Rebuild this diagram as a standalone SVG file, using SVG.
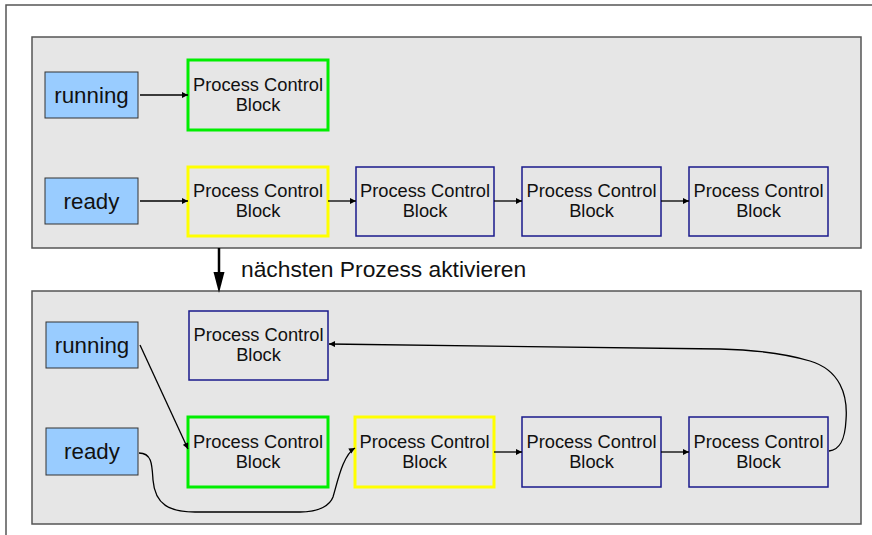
<svg xmlns="http://www.w3.org/2000/svg" width="872" height="535" viewBox="0 0 872 535">
<defs>
<style>
.panel{fill:#e6e6e6;stroke:#555;stroke-width:1.5}
.state{fill:#99ccff;stroke:#333;stroke-width:1}
.pcb{fill:none;stroke:#1a1a8c;stroke-width:1.5}
.pcb.g{stroke:#00ee00;stroke-width:3}
.pcb.y{stroke:#ffff00;stroke-width:3}
text{font-family:"Liberation Sans",Arial,sans-serif;fill:#111;text-anchor:middle}
.t{font-size:18.3px}
.s{font-size:22.3px}
.c{fill:none;stroke:#000;stroke-width:1.3;marker-end:url(#ah)}
</style>
<marker id="ah" viewBox="0 0 10 10" refX="10" refY="5" markerWidth="7" markerHeight="6" markerUnits="userSpaceOnUse" orient="auto"><path d="M0,0L10,5L0,10z" fill="#000"/></marker>
</defs>
<rect x="6" y="5" width="880" height="540" fill="#fff" stroke="#555" stroke-width="1.5"/>
<rect class="panel" x="32" y="37" width="829" height="211"/>
<rect class="panel" x="32" y="291" width="829" height="233"/>

<g id="top-running"><rect class="state" x="45" y="72" width="93" height="46"/><text class="s" x="91.5" y="103">running</text></g>
<g id="top-ready"><rect class="state" x="45" y="178" width="93" height="46"/><text class="s" x="91.5" y="209">ready</text></g>
<g id="top-pcb-green"><rect class="pcb g" x="188" y="60" width="140" height="70"/><text class="t" x="258" y="91">Process Control</text><text class="t" x="258" y="111">Block</text></g>
<g id="top-pcb-yellow"><rect class="pcb y" x="188" y="167" width="140" height="69"/><text class="t" x="258" y="197">Process Control</text><text class="t" x="258" y="217">Block</text></g>
<g id="top-pcb-2"><rect class="pcb" x="356" y="167" width="138" height="69"/><text class="t" x="425" y="197">Process Control</text><text class="t" x="425" y="217">Block</text></g>
<g id="top-pcb-3"><rect class="pcb" x="522" y="167" width="139" height="69"/><text class="t" x="591.5" y="197">Process Control</text><text class="t" x="591.5" y="217">Block</text></g>
<g id="top-pcb-4"><rect class="pcb" x="689" y="167" width="139" height="69"/><text class="t" x="758.5" y="197">Process Control</text><text class="t" x="758.5" y="217">Block</text></g>

<g id="transition">
<line x1="219" y1="248" x2="219" y2="274" stroke="#000" stroke-width="2.5"/>
<path d="M213.5,272L224.5,272L219,293z" fill="#000"/>
<text x="241" y="277" style="font-size:22.8px;text-anchor:start">nächsten Prozess aktivieren</text>
</g>

<g id="bot-running"><rect class="state" x="46" y="322" width="92" height="46"/><text class="s" x="92" y="353">running</text></g>
<g id="bot-ready"><rect class="state" x="46" y="428" width="92" height="47"/><text class="s" x="92" y="459">ready</text></g>
<g id="bot-pcb-top"><rect class="pcb" x="189" y="311" width="139" height="69"/><text class="t" x="258.5" y="341">Process Control</text><text class="t" x="258.5" y="361">Block</text></g>
<g id="bot-pcb-green"><rect class="pcb g" x="188" y="417" width="140" height="70"/><text class="t" x="258" y="448">Process Control</text><text class="t" x="258" y="468">Block</text></g>
<g id="bot-pcb-yellow"><rect class="pcb y" x="355" y="417" width="139" height="70"/><text class="t" x="424.5" y="448">Process Control</text><text class="t" x="424.5" y="468">Block</text></g>
<g id="bot-pcb-3"><rect class="pcb" x="522" y="417" width="139" height="70"/><text class="t" x="591.5" y="448">Process Control</text><text class="t" x="591.5" y="468">Block</text></g>
<g id="bot-pcb-4"><rect class="pcb" x="689" y="417" width="139" height="70"/><text class="t" x="758.5" y="448">Process Control</text><text class="t" x="758.5" y="468">Block</text></g>

<g id="connectors">
<line class="c" x1="140" y1="95" x2="188" y2="95"/>
<line class="c" x1="140" y1="201" x2="188" y2="201"/>
<line class="c" x1="328" y1="201" x2="356" y2="201"/>
<line class="c" x1="494" y1="201" x2="522" y2="201"/>
<line class="c" x1="661" y1="201" x2="689" y2="201"/>
<line class="c" x1="140" y1="345" x2="188" y2="449"/>
<path class="c" d="M139,453C152,453 152,465 153,480C155,505 170,512 195,512L300,512C320,512 330,505 333,497C338,480 343,455 355,448"/>
<line class="c" x1="494" y1="452" x2="522" y2="452"/>
<line class="c" x1="661" y1="452" x2="689" y2="452"/>
<path class="c" d="M829,451C840,450 845,440 846,420C848,395 840,370 810,361C790,355 760,350 720,349L329,344"/>
</g>
</svg>
